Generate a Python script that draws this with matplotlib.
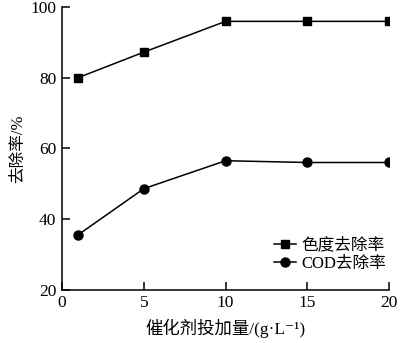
import numpy as np
import matplotlib.pyplot as plt

plt.rcParams['font.family'] = ['Liberation Serif', 'Noto Sans CJK SC', 'DejaVu Sans']

dosage = [1, 5, 10, 15, 20]
color_removal = [80.0, 87.2, 95.9, 95.9, 95.9]
cod_removal = [35.6, 48.6, 56.5, 56.0, 56.0]

fig = plt.figure(figsize=(4.0, 3.43), dpi=100)
ax = fig.add_axes([0.155, 0.155, 0.818, 0.825])

ax.plot(dosage, color_removal, color='black', lw=1.1, marker='s', ms=6,
        label='色度去除率')
ax.plot(dosage, cod_removal, color='black', lw=1.1, marker='o', ms=6.5,
        label='COD去除率')

ax.set_xlim(0, 20)
ax.set_ylim(20, 100)
ax.set_xticks([0, 5, 10, 15, 20])
ax.set_yticks([20, 40, 60, 80, 100])
ax.spines['top'].set_visible(False)
ax.spines['right'].set_visible(False)
for s in ('left', 'bottom'):
    ax.spines[s].set_linewidth(1.1)
ax.tick_params(direction='in', length=6, width=1.1, labelsize=12.5, pad=4)

ax.set_xlabel('催化剂投加量/(g·L\u207b\u00b9)', fontsize=12.5, labelpad=5)
ax.set_ylabel('去除率/%', fontsize=12, labelpad=3)

ax.legend(loc='lower right', frameon=False, fontsize=12, handlelength=1.3,
          handletextpad=0.3, labelspacing=0.15, borderaxespad=0.0,
          bbox_to_anchor=(1.01, 0.04))

fig.savefig('out.png', dpi=100)
